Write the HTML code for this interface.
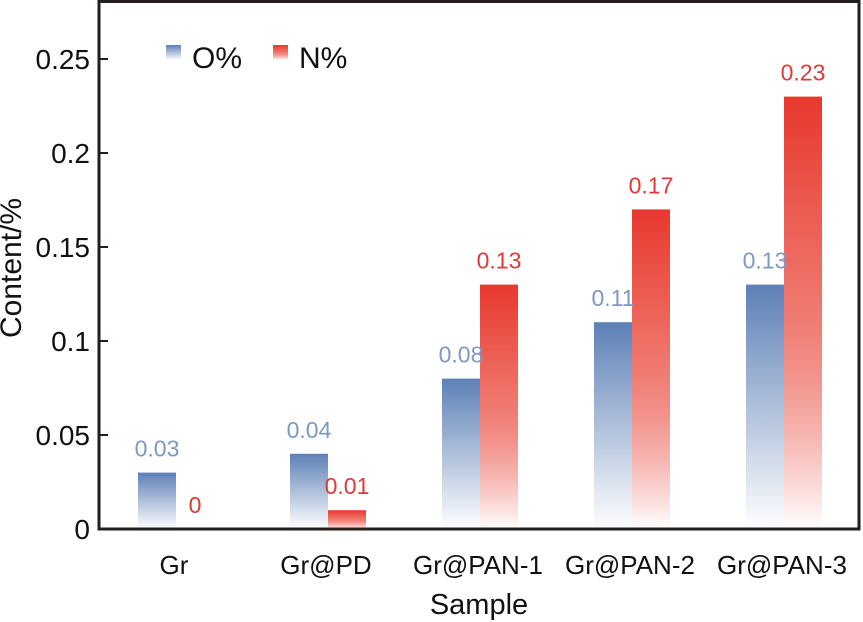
<!DOCTYPE html>
<html><head><meta charset="utf-8"><style>
body{margin:0;background:#fff;}
svg{display:block;font-family:"Liberation Sans",Arial,sans-serif;}
</style></head><body>
<svg id="chart" width="863" height="622">
<defs>
<linearGradient id="gb" x1="0" y1="0" x2="0" y2="1"><stop offset="0" stop-color="#5d80b6"/><stop offset="1" stop-color="#5d80b6" stop-opacity="0"/></linearGradient>
<linearGradient id="gr" x1="0" y1="0" x2="0" y2="1"><stop offset="0" stop-color="#e8382e"/><stop offset="0.5" stop-color="#ef7a70"/><stop offset="1" stop-color="#e8382e" stop-opacity="0"/></linearGradient>
</defs>
<rect x="99" y="1.5" width="760" height="527.5" fill="none" stroke="#231f1c" stroke-width="3"/>
<g id="yaxis"></g><g id="bars"></g><g id="xaxis"></g>
<text x="21" y="268" font-size="30" text-anchor="middle" transform="rotate(-90 21 268)" fill="#111">Content/%</text>
<text x="479" y="614" font-size="29" text-anchor="middle" fill="#111">Sample</text>
<g>
<rect x="166" y="45" width="15" height="15" fill="url(#gb)"/>
<text x="192" y="68" font-size="30" fill="#111">O%</text>
<rect x="273" y="45" width="15" height="15" fill="url(#gr)"/>
<text x="299" y="68" font-size="30" fill="#111">N%</text>
</g>
</svg>
<script>
const categories=["Gr","Gr@PD","Gr@PAN-1","Gr@PAN-2","Gr@PAN-3"];
const oValues=[0.03,0.04,0.08,0.11,0.13];
const nValues=[0,0.01,0.13,0.17,0.23];
const yTicks=[0,0.05,0.1,0.15,0.2,0.25];
const yTickLabels=["0","0.05","0.1","0.15","0.2","0.25"];
const NS="http://www.w3.org/2000/svg";
const y=v=>529-v*1880;
const xc=i=>176+i*152;
const bw=38;
function mk(t,a,p){const e=document.createElementNS(NS,t);for(const k in a)e.setAttribute(k,a[k]);p.appendChild(e);return e;}
const ya=document.getElementById('yaxis'),bg=document.getElementById('bars'),xa=document.getElementById('xaxis');
yTicks.forEach((v,i)=>{
 const l=mk('line',{x1:99,x2:108,y1:y(v),y2:y(v),stroke:'#231f1c','stroke-width':2},ya);
 
 
 const t=mk('text',{x:90,y:y(v)+10,'font-size':28,'text-anchor':'end',fill:'#111'},ya);
 t.textContent=yTickLabels[i];
 
 
});
categories.forEach((c,i)=>{
 const cx=xc(i);
 const bo=mk('rect',{x:cx-bw,y:y(oValues[i]),width:bw,height:529-y(oValues[i]),fill:'url(#gb)'},bg);
 
 
 const bn=mk('rect',{x:cx,y:y(nValues[i]),width:bw,height:529-y(nValues[i]),fill:'url(#gr)'},bg);
 
 
 const lo=mk('text',{x:cx-bw/2,y:y(oValues[i])-16,'font-size':23,'text-anchor':'middle',fill:'#7f98c2'},bg);
 lo.textContent=String(oValues[i]);
 
 
 const ln=mk('text',{x:cx+bw/2,y:y(nValues[i])-16,'font-size':23,'text-anchor':'middle',fill:'#e0393a'},bg);
 ln.textContent=String(nValues[i]);
 
 
 const xl=mk('text',{x:cx-2,y:574,'font-size':26,'text-anchor':'middle',fill:'#111'},xa);
 xl.textContent=c;
 
 
});
</script>
</body></html>
